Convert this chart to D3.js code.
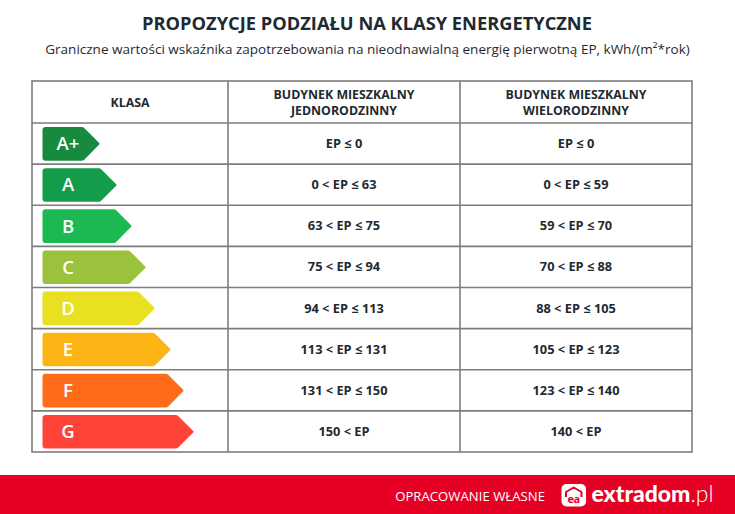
<!DOCTYPE html>
<html><head><meta charset="utf-8">
<script src="https://cdn.jsdelivr.net/npm/d3@7/dist/d3.min.js"></script>
<style>body{margin:0;background:#fff;}svg{display:block;}</style>
</head><body>
<script>
const title = "PROPOZYCJE PODZIAŁU NA KLASY ENERGETYCZNE";
const subtitle = "Graniczne wartości wskaźnika zapotrzebowania na nieodnawialną energię pierwotną EP, kWh/(m²*rok)";
const headers = [["KLASA"], ["BUDYNEK MIESZKALNY", "JEDNORODZINNY"], ["BUDYNEK MIESZKALNY", "WIELORODZINNY"]];
const classes = ["A+", "A", "B", "C", "D", "E", "F", "G"];
const singleFamily = ["EP ≤ 0", "0 < EP ≤ 63", "63 < EP ≤ 75", "75 < EP ≤ 94", "94 < EP ≤ 113", "113 < EP ≤ 131", "131 < EP ≤ 150", "150 < EP"];
const multiFamily = ["EP ≤ 0", "0 < EP ≤ 59", "59 < EP ≤ 70", "70 < EP ≤ 88", "88 < EP ≤ 105", "105 < EP ≤ 123", "123 < EP ≤ 140", "140 < EP"];
const classColors = ["#178a3f", "#139d4a", "#1cb953", "#9bc23d", "#e9e021", "#fdb516", "#fe6c1a", "#ff4437"];
const arrowTips = [100, 117, 132, 146, 155, 171, 184, 194];
const footerNote = "OPRACOWANIE WŁASNE";
const brand = "extradom", brandTld = ".pl";

const W = 735, H = 514;
const svg = d3.select("body").append("svg").attr("width", W).attr("height", H);
const font = "'Open Sans', 'Noto Sans', sans-serif";
const ink = "#1f2a30";

// scale font-size so that text spans the target width
function fitSize(str, weight, target, family) {
  const t = svg.append("text").attr("font-family", family || font).attr("font-weight", weight)
    .attr("font-size", 20).text(str);
  const w = t.node().getComputedTextLength();
  t.remove();
  return 20 * target / w;
}

svg.append("text").attr("x", 367).attr("y", 29.5).attr("text-anchor", "middle")
  .attr("font-family", font).attr("font-weight", 700).attr("font-size", fitSize(title, 700, 450))
  .attr("fill", ink).text(title);
svg.append("text").attr("x", 367.5).attr("y", 53.5).attr("text-anchor", "middle")
  .attr("font-family", font).attr("font-size", fitSize(subtitle, 400, 645)).attr("fill", ink).text(subtitle);

const colEdges = [32, 228, 460, 692];
const colCenter = i => (colEdges[i] + colEdges[i + 1]) / 2;
const tableTop = 81, headerBottom = 123, tableBottom = 452;
const y = d3.scaleBand().domain(classes).range([headerBottom, tableBottom]).padding(0);

// header text
const headSize = fitSize("BUDYNEK MIESZKALNY", 700, 141);
headers.forEach((lines, i) => {
  const t = svg.append("text").attr("text-anchor", "middle").attr("font-family", font)
    .attr("font-weight", 700).attr("font-size", headSize).attr("fill", ink);
  const lh = 16;
  lines.forEach((ln, j) => {
    t.append("tspan").attr("x", colCenter(i))
      .attr("y", 107.3 + (j - (lines.length - 1) / 2) * lh).text(ln);
  });
});

// arrows
const arrowPath = (x0, y0, y1, tip) => {
  const r = 3, depth = (y1 - y0) / 2, xb = tip - depth;
  const ym = (y0 + y1) / 2;
  return `M${x0 + r},${y0} L${xb - 1.5},${y0} Q${xb},${y0} ${xb + 1},${y0 + 1} L${tip - 0.8},${ym - 0.8} Q${tip},${ym} ${tip - 0.8},${ym + 0.8} L${xb + 1},${y1 - 1} Q${xb},${y1} ${xb - 1.5},${y1} L${x0 + r},${y1} Q${x0},${y1} ${x0},${y1 - r} L${x0},${y0 + r} Q${x0},${y0} ${x0 + r},${y0} Z`;
};
const valSize = fitSize("113 < EP ≤ 131", 700, 87);
const rows = svg.append("g").selectAll("g").data(classes).join("g");
rows.append("path")
  .attr("d", (d, i) => arrowPath(42.5, y(d) + 4, y(d) + y.bandwidth() - 3.5, arrowTips[i]))
  .attr("fill", (d, i) => classColors[i]);
rows.append("text").attr("x", 68).attr("y", d => y(d) + y.bandwidth() / 2 + 6.8)
  .attr("text-anchor", "middle").attr("font-family", font).attr("font-weight", 600)
  .attr("font-size", 18.5).attr("fill", "#fff").text(d => d);
rows.append("text").attr("x", colCenter(1)).attr("y", d => y(d) + y.bandwidth() / 2 + 4.5)
  .attr("text-anchor", "middle").attr("font-family", font).attr("font-weight", 700)
  .attr("font-size", valSize).attr("fill", ink).text((d, i) => singleFamily[i]);
rows.append("text").attr("x", colCenter(2)).attr("y", d => y(d) + y.bandwidth() / 2 + 4.5)
  .attr("text-anchor", "middle").attr("font-family", font).attr("font-weight", 700)
  .attr("font-size", valSize).attr("fill", ink).text((d, i) => multiFamily[i]);

// grid
const grid = svg.append("g").attr("stroke", "#7d7d7d").attr("stroke-width", 1.6).attr("fill", "none");
grid.append("rect").attr("x", 32).attr("y", tableTop).attr("width", 660).attr("height", tableBottom - tableTop);
[228, 460].forEach(cx => grid.append("line").attr("x1", cx).attr("x2", cx).attr("y1", tableTop).attr("y2", tableBottom));
[headerBottom, ...classes.slice(1).map(c => y(c))].forEach(yy =>
  grid.append("line").attr("x1", 32).attr("x2", 692).attr("y1", yy).attr("y2", yy));

// footer
svg.append("rect").attr("x", 0).attr("y", 475).attr("width", W).attr("height", H - 475).attr("fill", "#e60023");
svg.append("text").attr("x", 545).attr("y", 500.8).attr("text-anchor", "end").attr("font-family", font)
  .attr("font-size", fitSize(footerNote, 400, 150)).attr("fill", "#fff").text(footerNote);
const logo = svg.append("g");
logo.append("rect").attr("x", 561.5).attr("y", 484).attr("width", 24.5).attr("height", 22.5).attr("rx", 5).attr("fill", "#fff");
logo.append("path").attr("d", "M566,497 L566,492 L573.7,487.5 L581.5,492 L581.5,497")
  .attr("fill", "none").attr("stroke", "#e60023").attr("stroke-width", 2).attr("stroke-linejoin", "round");
logo.append("text").attr("x", 573.7).attr("y", 503).attr("text-anchor", "middle").attr("font-family", font)
  .attr("font-weight", 700).attr("font-size", 11).attr("fill", "#e60023").attr("letter-spacing", -0.5).text("ea");
const brandFont = "Lato, " + font;
const bSize = fitSize(brand, 900, 99, brandFont);
const bt = logo.append("text").attr("x", 591.5).attr("y", 502).attr("font-family", brandFont)
  .attr("font-size", bSize).attr("fill", "#fff");
bt.append("tspan").attr("font-weight", 900).text(brand);
bt.append("tspan").attr("font-weight", 300).text(brandTld);
</script>
</body></html>
